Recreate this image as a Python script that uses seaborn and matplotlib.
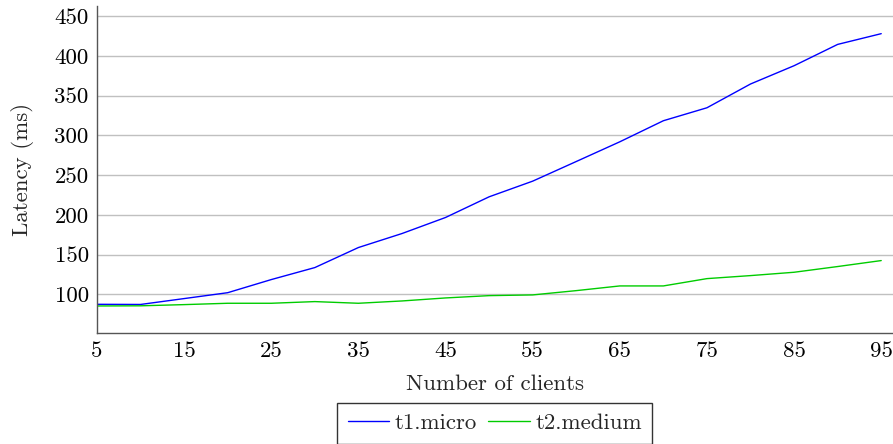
import matplotlib
matplotlib.use("Agg")
import matplotlib.pyplot as plt
import seaborn as sns
import pandas as pd

clients = [5, 10, 15, 20, 25, 30, 35, 40, 45, 50, 55, 60, 65, 70, 75, 80, 85, 90, 95]
t1_micro = [87.4, 87.2, 94.6, 102, 118.5, 133.6, 158.8, 176.4, 196.6, 222.6, 242.3,
            267, 291.8, 318.3, 334.6, 364.5, 387.5, 414.3, 427.8]
t2_medium = [85.3, 85.5, 87, 88.7, 88.7, 90.8, 88.7, 91.6, 95.4, 98.3, 99.2,
             104.6, 110.5, 110.5, 119.7, 123.5, 127.7, 134.9, 142.4]
series_names = ["t1.micro", "t2.medium"]
series_colors = ["#0000ff", "#00cc00"]
x_ticks = [5, 15, 25, 35, 45, 55, 65, 75, 85, 95]
y_ticks = [100, 150, 200, 250, 300, 350, 400, 450]

df = pd.DataFrame({
    "clients": clients * 2,
    "latency": t1_micro + t2_medium,
    "series": [series_names[0]] * len(clients) + [series_names[1]] * len(clients),
})

sns.set_theme(style="white")
plt.rcParams["font.family"] = ["cmr10", "DejaVu Serif"]
plt.rcParams["mathtext.fontset"] = "cm"
plt.rcParams["axes.formatter.use_mathtext"] = True
plt.rcParams["axes.unicode_minus"] = False

FS = 16.5

fig = plt.figure(figsize=(8.93, 4.44), dpi=100)
ax = fig.add_axes([97 / 893, 1 - 333 / 444, 1 - 97 / 893 - 0.0005, (333 - 6) / 444])

sns.lineplot(data=df, x="clients", y="latency", hue="series", palette=series_colors,
             linewidth=1.0, ax=ax, legend=True)

ax.set_xlim(5, 96.3)
ax.set_ylim(51.3, 462.6)
ax.set_xticks(x_ticks)
ax.set_yticks(y_ticks)
ax.set_xticklabels([str(v) for v in x_ticks])
ax.set_yticklabels([str(v) for v in y_ticks])
ax.yaxis.grid(True, color="#c0c0c0", linewidth=1.0)
ax.set_axisbelow(True)
for side in ["top", "right"]:
    ax.spines[side].set_visible(False)
for side in ["left", "bottom"]:
    ax.spines[side].set_color("#555555")
    ax.spines[side].set_linewidth(1.0)
ax.tick_params(axis="both", direction="in", length=10, width=0.8, color="#888888",
               labelsize=FS, labelcolor="black", pad=6)
ax.set_xlabel("Number of clients", fontsize=FS, labelpad=9.5)
ax.set_ylabel("Latency (ms)", fontsize=FS, labelpad=15)

handles, labels = ax.get_legend_handles_labels()
leg = ax.legend(handles, labels, loc="upper center", bbox_to_anchor=(0.5, -0.214),
                ncol=2, frameon=True, fancybox=False, edgecolor="black",
                fontsize=FS, handlelength=1.8, handletextpad=0.25, columnspacing=0.5,
                borderpad=0.45, borderaxespad=0)
leg.get_frame().set_linewidth(1.0)

fig.savefig("out.png", dpi=100)
